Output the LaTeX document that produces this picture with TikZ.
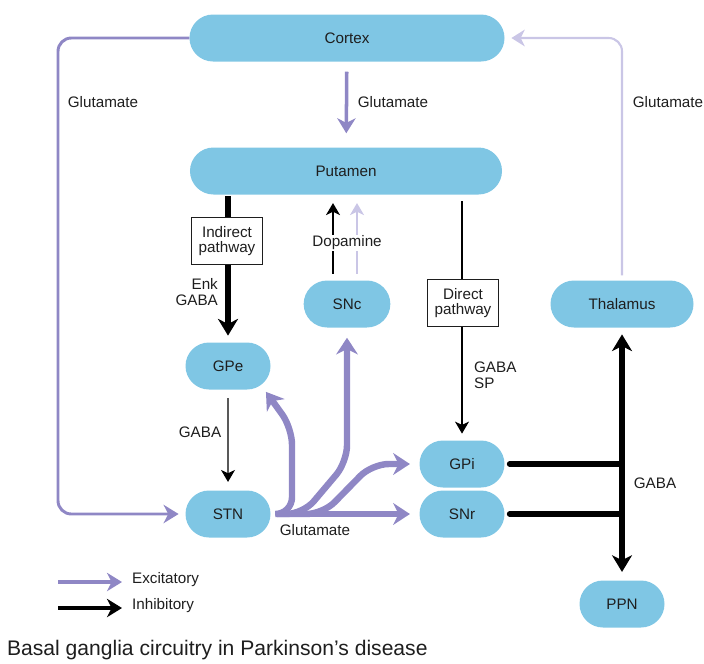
\documentclass[tikz,border=0pt]{standalone}
\usepackage{fontspec}
\setmainfont{Liberation Sans}
\usetikzlibrary{positioning,arrows.meta,shapes,calc}
\definecolor{Nucleus}{HTML}{7FC6E4}
\definecolor{Excit}{HTML}{8F87C5}
\definecolor{ExcitLight}{HTML}{CAC6E6}
\definecolor{Ink}{HTML}{1E1E1E}

\begin{document}
\begin{tikzpicture}[x=0.03cm,y=-0.03cm,font=\fontsize{13}{13.5}\selectfont,text=Ink,
    nucleus/.style={rounded rectangle,fill=Nucleus,minimum height=1.41cm,minimum width=2.55cm,inner sep=0pt},
    pathbox/.style={draw=Ink,fill=white,line width=0.8pt,align=center,inner sep=2pt,minimum width=2.15cm,minimum height=1.42cm},
    exc/.style={Excit,line width=5.5pt,rounded corners=0.5cm,-{Stealth[length=5mm,width=6.5mm,inset=1.6mm]}},
    inh/.style={black,line width=0.9pt,-{Stealth[length=3.6mm,width=4.2mm,inset=1mm]}}]
  \useasboundingbox (0,0) rectangle (704,663);
  \node[nucleus,minimum width=9.45cm] (cortex) at (347,38) {Cortex};
  \node[nucleus,minimum width=9.36cm] (putamen) at (346,171) {Putamen};
  \node[nucleus] (gpe) at (228,366) {GPe};
  \node[nucleus,minimum width=2.6cm] (snc) at (347,304) {SNc};
  \node[nucleus] (stn) at (228,514) {STN};
  \node[nucleus] (gpi) at (462,464) {GPi};
  \node[nucleus] (snr) at (462,514) {SNr};
  \node[nucleus,minimum width=4.29cm] (thal) at (622,304) {Thalamus};
  \node[nucleus] (ppn) at (622,604) {PPN};

  \draw[Excit,line width=3pt,-{Stealth[length=4.5mm,width=5.5mm,inset=1.4mm]},shorten <=0.3cm,shorten >=0.42cm] (cortex) -- (putamen);
  \draw[Excit,line width=2.5pt,rounded corners=0.4cm,-{Stealth[length=4.5mm,width=5.5mm,inset=1.4mm]},shorten >=0.2cm] (cortex.west) -- (58,38) -- (58,514) -- (stn.west);
  \draw[ExcitLight,line width=1.8pt,rounded corners=0.4cm,-{Stealth[length=4mm,width=5mm,inset=1.2mm]},shorten <=0.15cm,shorten >=0.2cm] (thal.north) -- (622,38) -- (cortex.east);
  \node (glu1) at (103,102) {Glutamate};
  \node (glu2) at (393,102) {Glutamate};
  \node (glu3) at (668,102) {Glutamate};

  \draw[black,line width=5pt,-{Stealth[length=5mm,width=6mm,inset=1.5mm]},shorten <=0.05cm,shorten >=0.2cm] (putamen.south -| gpe.north) -- (gpe.north);
  \node[pathbox] (indirect) at (227,241) {Indirect\\pathway};
  \node[align=right,anchor=east] (enk) at (222,292) {Enk\\GABA};

  \draw[inh,line width=1.2pt,shorten <=0.2cm,shorten >=0.25cm] ([xshift=-0.42cm]snc.north) -- ([xshift=-0.42cm]snc.north |- putamen.south);
  \draw[ExcitLight,line width=1.5pt,-{Stealth[length=3.6mm,width=4.2mm,inset=1mm]},shorten <=0.2cm,shorten >=0.25cm] ([xshift=0.3cm]snc.north) -- ([xshift=0.3cm]snc.north |- putamen.south);
  \node[fill=white,inner sep=1pt] (dopa) at (347,243) {Dopamine};

  \draw[inh,shorten <=0.2cm,shorten >=0.2cm] (putamen.south -| gpi.north) -- (gpi.north);
  \node[pathbox] (direct) at (463,303) {Direct\\pathway};
  \node[align=left,anchor=west] (gabasp) at (470,375) {GABA\\SP};

  \draw[inh,shorten <=0.25cm,shorten >=0.25cm] (gpe) -- (stn);
  \node (gaba1) at (200,432) {GABA};

  \draw[exc,shorten <=0.2cm,shorten >=0.28cm] (stn.east) -- (snr.west);
  \draw[exc,shorten <=0.2cm,shorten >=0.28cm] (stn.east) -- (323,514) -- (372,464) -- (gpi.west);
  \draw[exc,shorten <=0.2cm,shorten >=0.3cm] (stn.east) -- (303,514) -- (347,462) -- (snc.south);
  \draw[exc,shorten <=0.2cm,shorten >=0.25cm] (stn.east) -- (292,514) -- (292,428) -- (gpe.-30);
  \node (glu4) at (315,530) {Glutamate};

  \draw[black,line width=5pt,{Stealth[length=5mm,width=6mm,inset=1.5mm]}-{Stealth[length=5mm,width=6mm,inset=1.5mm]},shorten <=0.2cm,shorten >=0.25cm] (thal.south) -- (ppn.north);
  \draw[black,line width=5pt,line cap=round,shorten <=0.15cm] (gpi.east) -- (gpi.east -| thal.south);
  \draw[black,line width=5pt,line cap=round,shorten <=0.15cm] (snr.east) -- (snr.east -| thal.south);
  \node (gaba2) at (655,483) {GABA};

  \coordinate (excA) at (58,582);
  \coordinate (excB) at (122,582);
  \draw[Excit,line width=3pt,-{Stealth[length=4.5mm,width=5.5mm,inset=1.4mm]}] (excA) -- (excB);
  \node[anchor=west] (exclab) at (128,580) {Excitatory};
  \coordinate (inhA) at (58,608);
  \coordinate (inhB) at (122,608);
  \draw[black,line width=3pt,-{Stealth[length=4.5mm,width=5.5mm,inset=1.4mm]}] (inhA) -- (inhB);
  \node[anchor=west] (inhlab) at (128,606) {Inhibitory};
  \node[anchor=west,font=\fontsize{18}{20}\selectfont] (caption) at (3,650) {Basal ganglia circuitry in Parkinson’s disease};
\end{tikzpicture}
\end{document}
